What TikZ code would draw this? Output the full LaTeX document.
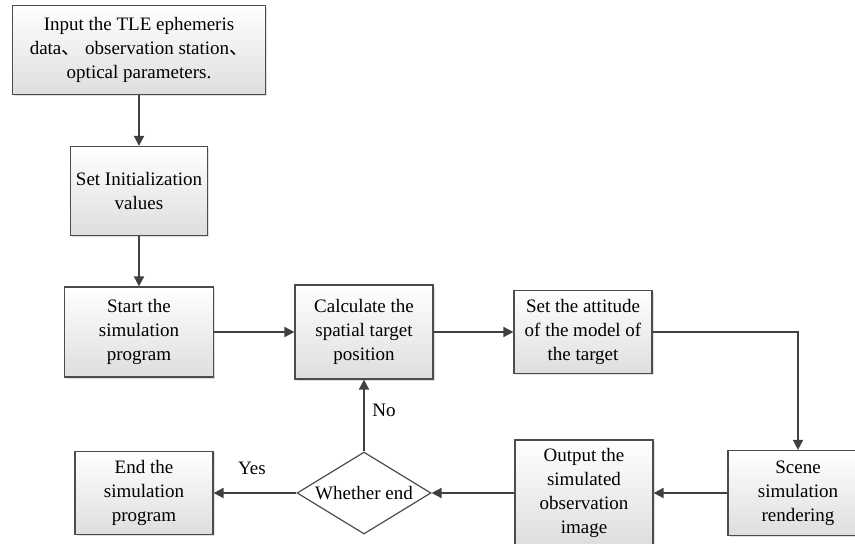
\documentclass[tikz,border=0pt]{standalone}
\usepackage{fontspec}
\setmainfont{Liberation Serif}
\newfontfamily\cjk{Noto Sans CJK SC}
\usetikzlibrary{positioning,shapes.geometric,arrows.meta,shadows}

\begin{document}
\begin{tikzpicture}[
x=1pt,
y=-1pt,
font=\fontsize{19}{24}\selectfont,
block/.style={draw=black!70, line width=1.2pt, top color=white, bottom color=black!13,
	align=center, inner sep=2pt,
	drop shadow={opacity=0.25, shadow xshift=1.5pt, shadow yshift=-1.5pt}},
decision/.style={diamond, aspect=1.63, draw=black!70, line width=1.2pt, fill=white,
	minimum width=134pt, minimum height=82pt, inner sep=0pt},
flow/.style={draw=black!75, line width=1.8pt, -{Triangle[length=10pt,width=10pt]}},
]
\useasboundingbox (0,0) rectangle (855,544);

	% left column
	\node[block, minimum width=253pt, minimum height=89pt] (input) at (139,50)
		{Input the TLE ephemeris\\ data{\cjk 、} observation station{\cjk 、}\\ optical parameters.};
	\node[block, minimum width=137pt, minimum height=89pt] (init) at (139,191)
		{Set Initialization\\ values};
	\node[block, minimum width=149pt, minimum height=90pt] (start) at (139,332)
		{Start the\\ simulation\\ program};
	% middle row
	\node[block, minimum width=138pt, minimum height=94pt] (calc) at (364,332)
		{Calculate the\\ spatial target\\ position};
	\node[block, minimum width=138pt, minimum height=83pt] (attitude) at (583,332)
		{Set the attitude\\ of the model of\\ the target};
	% bottom row
	\node[block, minimum width=140pt, minimum height=85pt] (scene) at (798,493)
		{Scene\\ simulation\\ rendering};
	\node[block, minimum width=138pt, minimum height=106pt] (output) at (584,493)
		{Output the\\ simulated\\ observation\\ image};
	\node[decision] (whether) at (364,493) {Whether end};
	\node[block, minimum width=138pt, minimum height=83pt] (finish) at (144,493)
		{End the\\ simulation\\ program};

	\draw[flow] (input) -- (init);
	\draw[flow] (init) -- (start);
	\draw[flow] (start) -- (calc);
	\draw[flow] (calc) -- (attitude);
	\draw[flow] (attitude) -| (scene);
	\draw[flow] (scene) -- (output);
	\draw[flow] (output) -- (whether);
	\draw[flow] (whether) -- (finish);
	\draw[flow] (whether) -- (calc);

	% branch labels
	\node (yes) at (252,468) {Yes};
	\node (no) at (384,410) {No};
\end{tikzpicture}
\end{document}
